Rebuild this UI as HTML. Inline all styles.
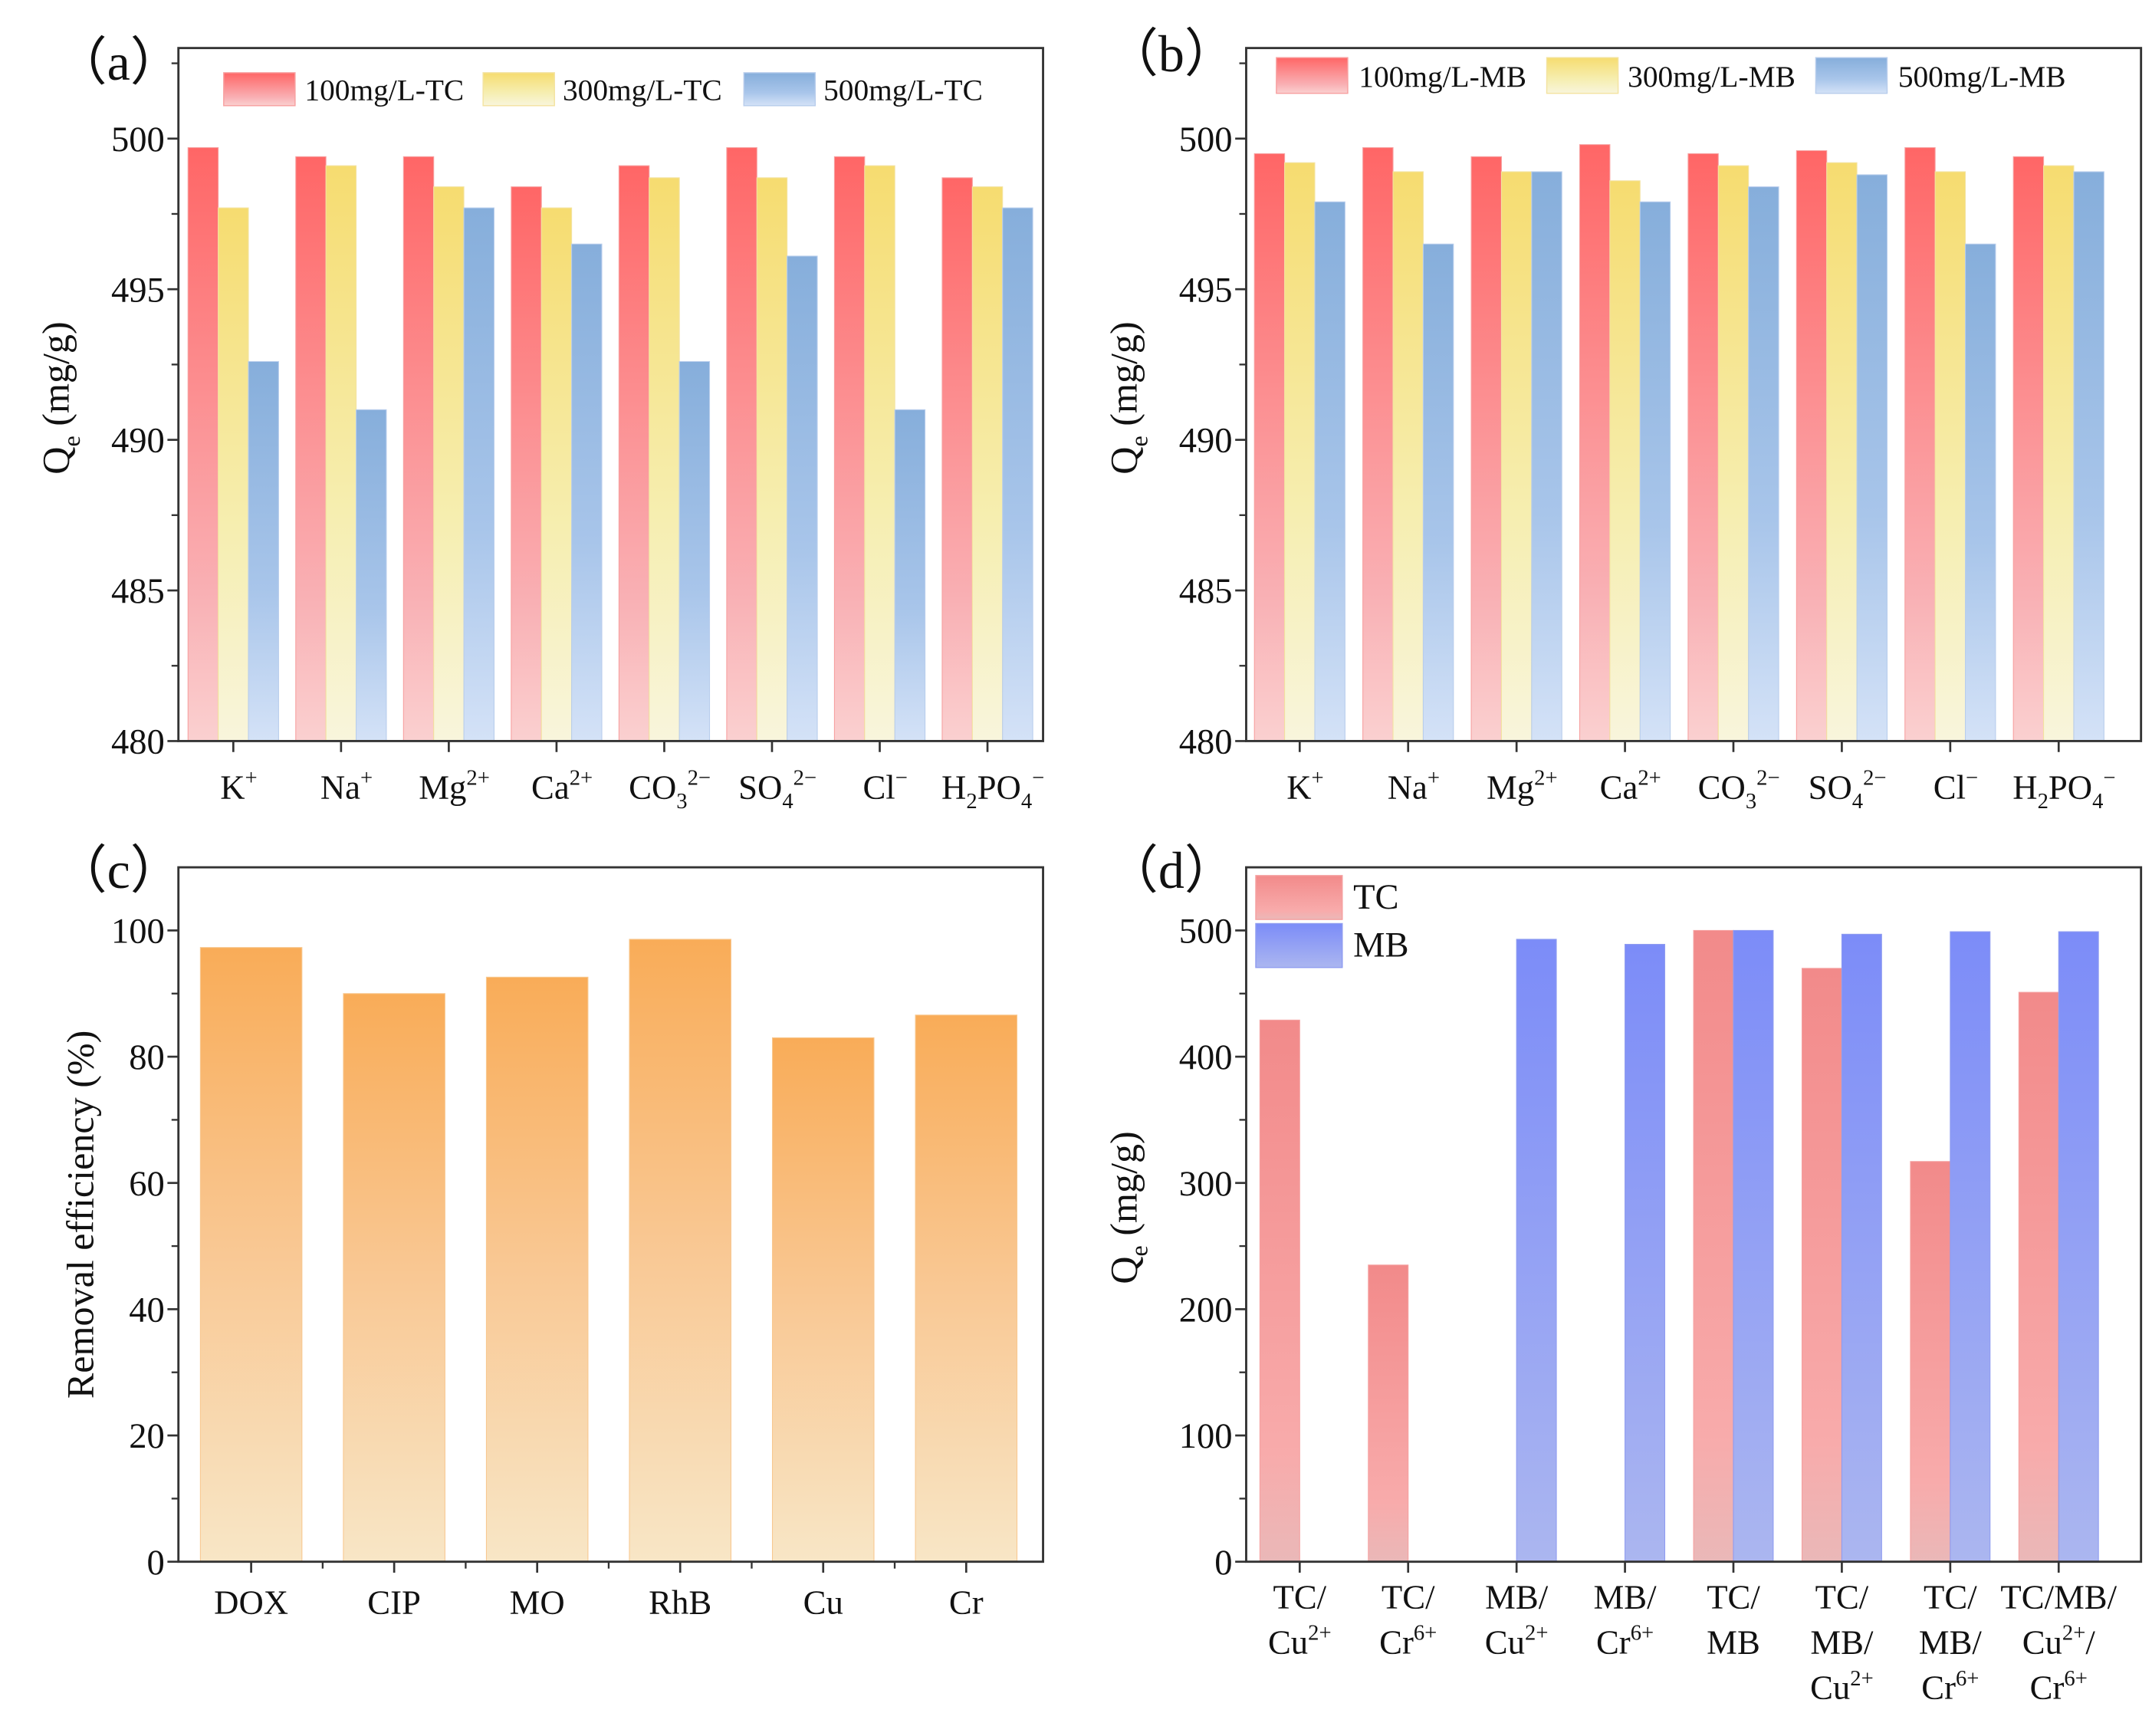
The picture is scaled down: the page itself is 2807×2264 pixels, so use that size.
<!DOCTYPE html>
<html><head><meta charset="utf-8"><style>
html,body{margin:0;padding:0;background:#fff;}
svg{display:block;}
text{font-family:"Liberation Serif",serif;fill:#111;}
</style></head><body>
<svg id="fig" width="2807" height="2264" viewBox="0 0 1568 1265" preserveAspectRatio="none" xmlns="http://www.w3.org/2000/svg">
<defs>
<linearGradient id="gRed" x1="0" y1="0" x2="0" y2="1"><stop offset="0" stop-color="#ff6666"/><stop offset="0.75" stop-color="#f9b0b4"/><stop offset="1" stop-color="#fad0d0"/></linearGradient>
<linearGradient id="gYel" x1="0" y1="0" x2="0" y2="1"><stop offset="0" stop-color="#f6dc70"/><stop offset="0.6" stop-color="#f6eeb0"/><stop offset="1" stop-color="#f8f5dc"/></linearGradient>
<linearGradient id="gBlu" x1="0" y1="0" x2="0" y2="1"><stop offset="0" stop-color="#86aedb"/><stop offset="0.6" stop-color="#a8c5ea"/><stop offset="1" stop-color="#d4e2f7"/></linearGradient>
<linearGradient id="gOra" x1="0" y1="0" x2="0" y2="1"><stop offset="0" stop-color="#f9ac58"/><stop offset="0.5" stop-color="#f9c894"/><stop offset="1" stop-color="#f8e6c6"/></linearGradient>
<linearGradient id="gTC" x1="0" y1="0" x2="0" y2="1"><stop offset="0" stop-color="#f28a8a"/><stop offset="0.8" stop-color="#f8abab"/><stop offset="1" stop-color="#eab8b8"/></linearGradient>
<linearGradient id="gMB" x1="0" y1="0" x2="0" y2="1"><stop offset="0" stop-color="#7c8cf8"/><stop offset="1" stop-color="#abb6f0"/></linearGradient>
</defs>
</svg>
<script>
// ---- data ----
const SUP = s => '<tspan dy="-10" font-size="16">' + s + '</tspan>';
const ionLabels = ['K' + SUP('+'), 'Na' + SUP('+'), 'Mg' + SUP('2+'), 'Ca' + SUP('2+'),
  'CO<tspan dy="7" font-size="16">3</tspan><tspan dy="-17" font-size="16">2−</tspan>',
  'SO<tspan dy="7" font-size="16">4</tspan><tspan dy="-17" font-size="16">2−</tspan>',
  'Cl' + SUP('−'),
  'H<tspan dy="7" font-size="16">2</tspan><tspan dy="-7">PO</tspan><tspan dy="7" font-size="16">4</tspan><tspan dy="-17" font-size="16">−</tspan>'];
const tc100 = [499.7, 499.4, 499.4, 498.4, 499.1, 499.7, 499.4, 498.7];
const tc300 = [497.7, 499.1, 498.4, 497.7, 498.7, 498.7, 499.1, 498.4];
const tc500 = [492.6, 491.0, 497.7, 496.5, 492.6, 496.1, 491.0, 497.7];
const mb100 = [499.5, 499.7, 499.4, 499.8, 499.5, 499.6, 499.7, 499.4];
const mb300 = [499.2, 498.9, 498.9, 498.6, 499.1, 499.2, 498.9, 499.1];
const mb500 = [497.9, 496.5, 498.9, 497.9, 498.4, 498.8, 496.5, 498.9];
const qTicks = [480, 485, 490, 495, 500];
const pollutants = ['DOX','CIP','MO','RhB','Cu','Cr'];
const removal = [97.3, 90.0, 92.6, 98.6, 83.0, 86.6];
const remTicks = [0, 20, 40, 60, 80, 100];
const mixLabels = [['TC/','Cu' + SUP('2+')],['TC/','Cr' + SUP('6+')],['MB/','Cu' + SUP('2+')],['MB/','Cr' + SUP('6+')],['TC/','MB'],['TC/','MB/','Cu' + SUP('2+')],['TC/','MB/','Cr' + SUP('6+')],['TC/MB/','Cu' + SUP('2+') + '<tspan dy="10">/</tspan>','Cr' + SUP('6+')]];
const mixTC = [429, 235, 0, 0, 500, 470, 317, 451];
const mixMB = [0, 0, 493, 489, 500, 497, 499, 499];
const mixTicks = [0, 100, 200, 300, 400, 500];

const svg = document.getElementById('fig');
const NS = 'http://www.w3.org/2000/svg';
function mk(tag, attrs, parent){const e=document.createElementNS(NS,tag);for(const k in attrs)e.setAttribute(k,attrs[k]);(parent||svg).appendChild(e);return e;}

function panel(o){
  const g = mk('g',{});
  
  
  const y = v => o.bottom - (v - o.ymin) / (o.ymax - o.ymin) * (o.bottom - o.ytop);
  o.series.forEach((s, si) => {
    s.values.forEach((v, i) => {
      if (v <= o.ymin) return;
      const cx = o.c0 + i * o.step;
      const x = cx - o.groupW / 2 + si * o.barW;
      const r = mk('rect',{x:x,y:y(v),width:o.barW,height:o.bottom - y(v),fill:'url(#'+s.grad+')',stroke:s.stroke,'stroke-width':0.6}, g);
      
      
    });
  });
  const f = mk('rect',{x:o.left,y:o.top,width:o.right-o.left,height:o.bottom-o.top,fill:'none',stroke:'#333','stroke-width':1.6}, g);
  
  
  o.yticks.forEach((t, i) => {
    mk('line',{x1:o.left-8,x2:o.left,y1:y(t),y2:y(t),stroke:'#333','stroke-width':1.5}, g);
    const lb = mk('text',{x:o.left-10,y:y(t)+9,'text-anchor':'end','font-size':26}, g);
    lb.textContent = t;
    
    
    if (i < o.yticks.length - 1) { const m=(t+o.yticks[i+1])/2; mk('line',{x1:o.left-5,x2:o.left,y1:y(m),y2:y(m),stroke:'#333','stroke-width':1.3}, g); }
  });
  if (o.extraMinor) { const m = o.yticks[o.yticks.length-1] + (o.yticks[1]-o.yticks[0])/2; if (y(m) > o.top) mk('line',{x1:o.left-5,x2:o.left,y1:y(m),y2:y(m),stroke:'#333','stroke-width':1.3}, g); }
  o.labels.forEach((l, i) => {
    const cx = o.c0 + i * o.step;
    mk('line',{x1:cx,x2:cx,y1:o.bottom,y2:o.bottom+8,stroke:'#333','stroke-width':1.5}, g);
    if (o.xminor && i < o.labels.length - 1) mk('line',{x1:cx+o.step/2,x2:cx+o.step/2,y1:o.bottom,y2:o.bottom+5,stroke:'#333','stroke-width':1.3}, g);
    const lines = Array.isArray(l) ? l : [l];
    lines.forEach((ln, li) => {
      const t = mk('text',{x:cx + (o.lshift||0),y:o.labY + li*33,'text-anchor':'middle','font-size':25}, g);
      t.innerHTML = ln;
      
      
    });
  });
  const yt = mk('text',{x:0,y:0,'font-size':28,'text-anchor':'middle',transform:'translate('+o.ytx+','+o.yty+') rotate(-90)'}, g);
  yt.innerHTML = o.ytitle;
  
  
  const pl = mk('text',{x:o.plx,y:o.ply,'font-size':38}, g);
  pl.textContent = o.plabel;
  
  
  (o.legend||[]).forEach(L => {
    const sw = mk('rect',{x:L.x,y:L.y,width:L.w,height:L.h,fill:'url(#'+L.grad+')',stroke:L.stroke,'stroke-width':0.8}, g);
    
    
    const lt = mk('text',{x:L.tx,y:L.y+L.h/2+8,'font-size':L.fs||22}, g);
    lt.textContent = L.text;
    
    
  });
}
const Q = 'Q<tspan dy="8" font-size="18">e</tspan><tspan dy="-8"> (mg/g)</tspan>';
panel({name:'panel-a',left:130,right:760,top:35,bottom:540,ytop:101,ymin:480,ymax:500,c0:170,step:78.5,groupW:66,barW:22,
  series:[{key:'100',values:tc100,grad:'gRed',stroke:'#f7a0a0'},{key:'300',values:tc300,grad:'gYel',stroke:'#f3e3a0'},{key:'500',values:tc500,grad:'gBlu',stroke:'#b8cdec'}],
  yticks:qTicks,extraMinor:true,labels:ionLabels,labY:582,lshift:4,ytitle:Q,ytx:50,yty:290,plx:40,ply:58,plabel:'（a）',
  legend:[{x:163,y:53,w:52,h:24,grad:'gRed',stroke:'#f7a0a0',tx:222,text:'100mg/L-TC'},{x:352,y:53,w:52,h:24,grad:'gYel',stroke:'#f3e3a0',tx:410,text:'300mg/L-TC'},{x:542,y:53,w:52,h:24,grad:'gBlu',stroke:'#b8cdec',tx:600,text:'500mg/L-TC'}]});
panel({name:'panel-b',left:908,right:1560,top:35,bottom:540,ytop:101,ymin:480,ymax:500,c0:947,step:79,groupW:66,barW:22,
  series:[{key:'100',values:mb100,grad:'gRed',stroke:'#f7a0a0'},{key:'300',values:mb300,grad:'gYel',stroke:'#f3e3a0'},{key:'500',values:mb500,grad:'gBlu',stroke:'#b8cdec'}],
  yticks:qTicks,extraMinor:true,labels:ionLabels,labY:582,lshift:4,ytitle:Q,ytx:828,yty:290,plx:806,ply:52,plabel:'（b）',
  legend:[{x:930,y:42,w:52,h:26,grad:'gRed',stroke:'#f7a0a0',tx:990,text:'100mg/L-MB'},{x:1127,y:42,w:52,h:26,grad:'gYel',stroke:'#f3e3a0',tx:1186,text:'300mg/L-MB'},{x:1323,y:42,w:52,h:26,grad:'gBlu',stroke:'#b8cdec',tx:1383,text:'500mg/L-MB'}]});
panel({name:'panel-c',left:130,right:760,top:632,bottom:1138,ytop:678,ymin:0,ymax:100,c0:183,step:104.2,groupW:74,barW:74,
  series:[{key:'removal',values:removal,grad:'gOra',stroke:'#f8c890'}],
  yticks:remTicks,extraMinor:false,xminor:true,labels:pollutants,labY:1176,ytitle:'Removal efficiency (%)',ytx:68,yty:885,plx:40,ply:647,plabel:'（c）'});
panel({name:'panel-d',left:908,right:1560,top:632,bottom:1138,ytop:678,ymin:0,ymax:500,c0:947,step:79,groupW:58,barW:29,
  series:[{key:'tc',values:mixTC,grad:'gTC',stroke:'#f5a0a0'},{key:'mb',values:mixMB,grad:'gMB',stroke:'#8f9cf0'}],
  yticks:mixTicks,extraMinor:true,labels:mixLabels,labY:1172,ytitle:Q,ytx:828,yty:880,plx:806,ply:647,plabel:'（d）',
  legend:[{x:915,y:638,w:63,h:32,grad:'gTC',stroke:'#f5a0a0',tx:986,text:'TC',fs:26},{x:915,y:673,w:63,h:32,grad:'gMB',stroke:'#8f9cf0',tx:986,text:'MB',fs:26}]});
</script>
</body></html>
